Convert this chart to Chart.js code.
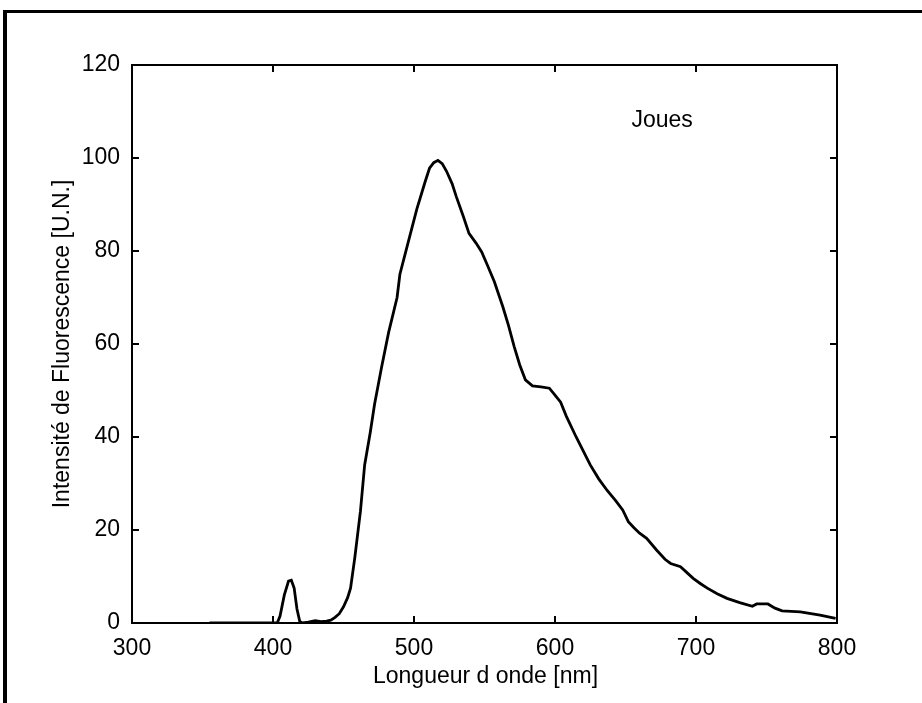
<!DOCTYPE html>
<html>
<head>
<meta charset="utf-8">
<script src="https://cdn.jsdelivr.net/npm/chart.js@4.4.0/dist/chart.umd.min.js"></script>
<style>
  html, body { margin: 0; padding: 0; background: #fff; }
  #wrap { position: relative; width: 922px; height: 703px; overflow: hidden; }
  #frameTop { position: absolute; left: 3px; top: 10px; width: 919px; height: 3px; background: #000; }
  #frameLeft { position: absolute; left: 3px; top: 10px; width: 4px; height: 693px; background: #000; }
  canvas { position: absolute; left: 0; top: 0; }
</style>
</head>
<body>
<div id="wrap">
  <canvas id="spectre" width="922" height="703"></canvas>
  <div id="frameTop"></div>
  <div id="frameLeft"></div>
</div>
<script>
// =======================================
// DATA
// =======================================
const wavelengths = [
  355, 400, 403, 405, 408, 411, 413, 415, 417, 419, 421, 425, 430, 434, 438, 441,
  444, 447, 450, 453, 455, 458, 460, 462, 465, 469, 472, 477, 482, 488, 490, 496,
  502, 508, 511, 514, 517, 520, 523, 527, 530, 535, 539, 544, 548, 552, 557, 563,
  567, 571, 575, 579, 584, 590, 596, 600, 604, 608, 615, 620, 625, 631, 637, 643,
  648, 652, 656, 660, 665, 672, 678, 682, 689, 693, 698, 703, 708, 715, 722, 731,
  740, 743, 751, 756, 761, 774, 788, 799
];
const intensity = [
  0, 0, 0, 1.5, 6, 9, 9.2, 7.5, 3, 0.3, 0, 0.2, 0.5, 0.3, 0.4, 0.6,
  1.2, 2, 3.5, 5.5, 7.5, 14, 19, 24, 34, 41, 47, 55, 62.5, 70, 75, 82,
  89, 95, 97.8, 99, 99.5, 98.8, 97.2, 94.5, 91.7, 87.4, 83.8, 81.7, 79.8, 77, 73.4, 68,
  64, 59.5, 55.5, 52.3, 51, 50.8, 50.5, 49, 47.5, 44.5, 40, 37, 34, 31, 28.5, 26.3,
  24.3, 21.8, 20.5, 19.3, 18.2, 15.7, 13.7, 12.8, 12.1, 11, 9.6, 8.5, 7.5, 6.3, 5.3, 4.4,
  3.6, 4.1, 4.1, 3.2, 2.6, 2.4, 1.7, 1.0
];
const xTicks = [300, 400, 500, 600, 700, 800];
const yTicks = [0, 20, 40, 60, 80, 100, 120];
const xTitle = "Longueur d onde [nm]";
const yTitle = "Intensité de Fluorescence [U.N.]";
const label = "Joues";
const labelPos = [676, 108];

const FONT = "'Liberation Sans', Arial, sans-serif";
const FSIZE = 23;

// =======================================
// PLOT AREA (fixed, like the scan)
// =======================================
const area = { left: 132, right: 837, top: 65, bottom: 623 };

// box + inward ticks on all four sides, MATLAB style, plus titles
const boxPlugin = {
  id: "box",
  afterDatasetsDraw(chart) {
    const { ctx, chartArea: a, scales } = chart;
    const len = 7;
    ctx.save();
    ctx.strokeStyle = "#000";
    ctx.lineWidth = 2;
    ctx.strokeRect(a.left, a.top, a.right - a.left, a.bottom - a.top);
    ctx.beginPath();
    xTicks.forEach((v) => {
      const px = scales.x.getPixelForValue(v);
      ctx.moveTo(px, a.bottom); ctx.lineTo(px, a.bottom - len);
      ctx.moveTo(px, a.top); ctx.lineTo(px, a.top + len);
    });
    yTicks.forEach((v) => {
      const py = scales.y.getPixelForValue(v);
      ctx.moveTo(a.left, py); ctx.lineTo(a.left + len, py);
      ctx.moveTo(a.right, py); ctx.lineTo(a.right - len, py);
    });
    ctx.stroke();

    ctx.fillStyle = "#000";
    ctx.font = FSIZE + "px " + FONT;
    ctx.textAlign = "center";
    ctx.textBaseline = "middle";

    // "Joues" annotation
    ctx.fillText(label, scales.x.getPixelForValue(labelPos[0]), scales.y.getPixelForValue(labelPos[1]));

    // axis titles
    ctx.fillText(xTitle, (a.left + a.right) / 2 + 1, 677);
    ctx.translate(63, (a.top + a.bottom) / 2);
    ctx.rotate(-Math.PI / 2);
    ctx.fillText(yTitle, 0, 0);
    ctx.restore();
  },
};

new Chart(document.getElementById("spectre"), {
  type: "line",
  data: {
    datasets: [
      {
        data: wavelengths.map((w, i) => ({ x: w, y: intensity[i] })),
        borderColor: "#000",
        borderWidth: 2.8,
        pointRadius: 0,
        tension: 0,
        fill: false,
      },
    ],
  },
  options: {
    responsive: false,
    animation: false,
    layout: { padding: { left: 20, right: 922 - area.right, top: area.top, bottom: 8 } },
    plugins: { legend: { display: false }, tooltip: { enabled: false } },
    scales: {
      x: {
        type: "linear",
        min: 300,
        max: 800,
        afterBuildTicks: (s) => { s.ticks = xTicks.map((v) => ({ value: v })); },
        afterFit: (s) => { s.height = 703 - area.bottom - 8; },
        grid: { display: false },
        border: { display: false },
        ticks: { color: "#000", font: { family: FONT, size: FSIZE }, padding: 4 },
      },
      y: {
        min: 0,
        max: 120,
        afterBuildTicks: (s) => { s.ticks = yTicks.map((v) => ({ value: v })); },
        afterFit: (s) => { s.width = area.left - 20; },
        grid: { display: false },
        border: { display: false },
        ticks: { color: "#000", font: { family: FONT, size: FSIZE }, padding: 4 },
      },
    },
  },
  plugins: [boxPlugin],
});
</script>
</body>
</html>
